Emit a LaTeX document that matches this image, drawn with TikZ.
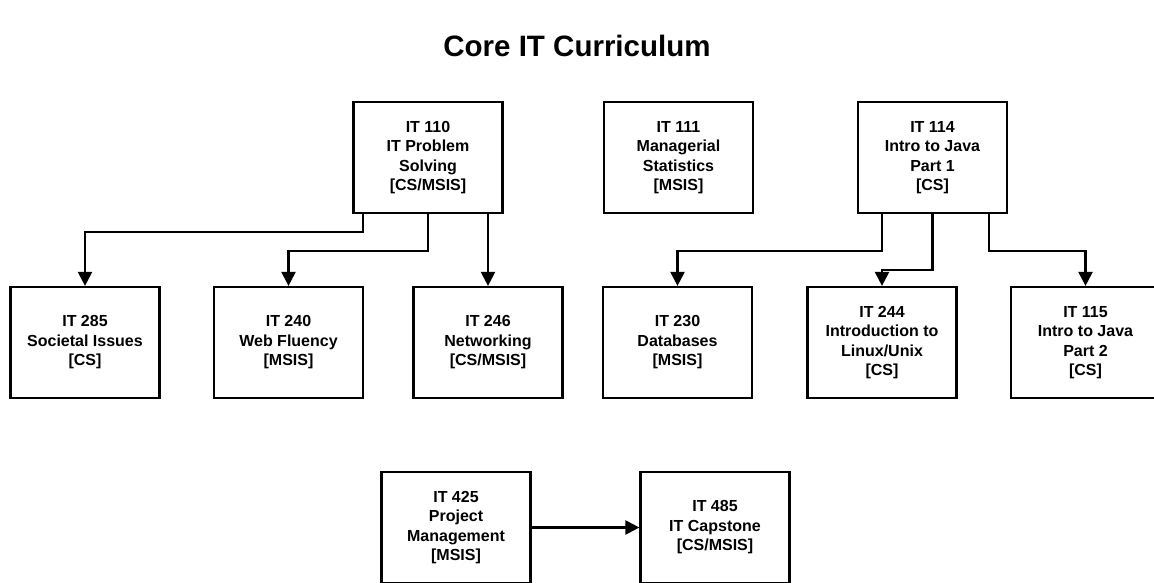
\documentclass[tikz,border=0pt]{standalone}
\usepackage{fontspec}
\setmainfont{Liberation Sans}
\usetikzlibrary{arrows.meta}

\begin{document}
\begin{tikzpicture}[x=1pt,y=-1pt,
  course/.style={draw=black, line width=2.2pt, minimum width=149pt, minimum height=111pt,
    inner sep=0pt, align=center, font=\fontsize{16}{19.5}\selectfont\bfseries},
  prereq/.style={draw=black, line width=2.2pt, -{Triangle[width=14pt,length=14pt]}}]
\useasboundingbox (0,0) rectangle (1154,583);
\node [anchor=base, font=\fontsize{29.5}{34}\selectfont\bfseries] (title) at (577,57) {Core IT Curriculum};

% first year courses
\node [course] (it110) at (428,157.5) {IT 110\\IT Problem\\Solving\\{[CS/MSIS]}};
\node [course] (it111) at (678.5,157.5) {IT 111\\Managerial\\Statistics\\{[MSIS]}};
\node [course] (it114) at (932.5,157.5) {IT 114\\Intro to Java\\Part 1\\{[CS]}};

% follow-up courses
\node [course] (it285) at (85,342.5) {IT 285\\Societal Issues\\{[CS]}};
\node [course] (it240) at (288.5,342.5) {IT 240\\Web Fluency\\{[MSIS]}};
\node [course] (it246) at (488,342.5) {IT 246\\Networking\\{[CS/MSIS]}};
\node [course] (it230) at (677.5,342.5) {IT 230\\Databases\\{[MSIS]}};
\node [course] (it244) at (882,342.5) {IT 244\\Introduction to\\Linux/Unix\\{[CS]}};
\node [course] (it115) at (1085.5,342.5) {IT 115\\Intro to Java\\Part 2\\{[CS]}};

% senior courses
\node [course] (it425) at (456,527.5) {IT 425\\Project\\Management\\{[MSIS]}};
\node [course] (it485) at (715,527.5) {IT 485\\IT Capstone\\{[CS/MSIS]}};

\draw [prereq] ([xshift=-65pt]it110.south) -- ++(0,18) -| (it285.north);
\draw [prereq] (it110.south) -- ++(0,37) -| (it240.north);
\draw [prereq] ([xshift=60pt]it110.south) -- (it246.north);

\draw [prereq] ([xshift=-50.5pt]it114.south) -- ++(0,37) -| (it230.north);
\draw [prereq] (it114.south) -- ++(0,56) -| (it244.north);
\draw [prereq] ([xshift=56.5pt]it114.south) -- ++(0,37) -| (it115.north);

\draw [prereq] (it425) -- (it485);
\end{tikzpicture}
\end{document}
